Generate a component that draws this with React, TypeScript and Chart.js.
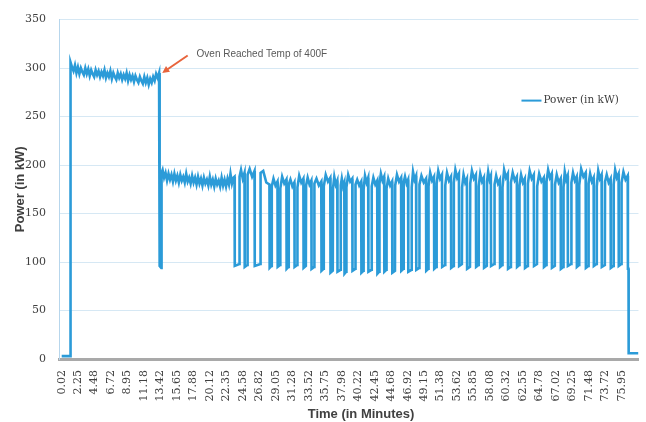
import React, { useEffect, useRef } from "react";
import { Chart, registerables } from "chart.js";
Chart.register(...registerables);

// ---- tick labels (minutes) ----
const tickLabels = ["0.02","2.25","4.48","6.72","8.95","11.18","13.42","15.65","17.88","20.12","22.35","24.58","26.82","29.05","31.28","33.52","35.75","37.98","40.22","42.45","44.68","46.92","49.15","51.38","53.62","55.85","58.08","60.32","62.55","64.78","67.02","69.25","71.48","73.72","75.95"];
const tickValues = tickLabels.map(Number);

// ---- oven off before start ----
const offTimes = [0.02, 1.2];
const offPower = [3, 3];

// ---- warm-up phase (sampled every 0.2 min) ----
const warmStart = 1.22;
const warmStep = 0.2;
const warmPower = [
  306, 301, 297, 303, 295, 301, 294, 300, 296, 293,
  300, 294, 299, 292, 298, 294, 291, 298, 293, 297,
  291, 296, 292, 298, 290, 295, 291, 297, 289, 295,
  291, 288, 295, 290, 294, 288, 293, 289, 295, 287,
  293, 288, 292, 286, 292, 288, 285, 291, 287, 284,
  291, 285, 290, 283, 289, 285, 291, 287, 294, 290,
  295,
];

// ---- brief drop when oven reached temperature ----
const dropTimes = [13.28, 13.32, 13.52, 13.56];
const dropPower = [290, 96, 94, 192];

// ---- holding plateau (sampled every 0.2 min) ----
const plateauStart = 13.7;
const plateauStep = 0.2;
const plateauPower = [
  195, 187, 192, 184, 191, 185, 190, 183, 191, 184,
  189, 182, 190, 184, 188, 182, 191, 183, 187, 181,
  189, 182, 187, 180, 188, 181, 186, 179, 187, 181,
  185, 179, 188, 180, 185, 178, 186, 180, 184, 178,
  187, 179, 185, 178, 186, 180, 191, 181, 187,
];
const preDipLevel = 188;

// ---- cycling phase ----
const dipDown = [23.45, 24.80, 26.16, 28.18, 29.27, 30.48, 31.56, 32.78, 33.86, 35.21, 36.43, 37.38, 38.33, 39.41, 40.62, 41.57, 42.79, 43.73, 44.81, 46.03, 46.98, 48.06, 49.41, 50.49, 51.57, 52.79, 53.87, 54.95, 56.17, 57.25, 58.20, 59.42, 60.50, 61.72, 62.80, 64.02, 65.37, 66.45, 67.66, 68.61, 69.83, 71.05, 72.13, 73.21, 74.43, 75.51];
const dipUp = [24.13, 25.22, 26.98, 28.50, 29.66, 30.80, 31.98, 33.15, 34.28, 35.55, 36.80, 37.85, 38.62, 39.85, 40.95, 42.05, 43.10, 44.06, 45.23, 46.38, 47.47, 48.52, 49.75, 50.85, 52.02, 53.18, 54.30, 55.40, 56.55, 57.68, 58.70, 59.78, 60.92, 62.08, 63.22, 64.48, 65.75, 66.90, 68.05, 69.12, 70.18, 71.45, 72.56, 73.68, 74.85, 75.92];
const dipLow = [96, 95, 96, 94, 95, 93, 95, 94, 93, 91, 89, 90, 88, 91, 89, 90, 88, 90, 89, 91, 90, 92, 91, 93, 95, 94, 96, 93, 95, 94, 96, 95, 93, 95, 94, 96, 95, 94, 93, 96, 95, 94, 96, 95, 94, 96];
const riseTo = [188, 190, 192, 178, 176, 180, 177, 179, 181, 178, 176, 179, 177, 180, 175, 178, 181, 176, 179, 182, 177, 180, 178, 181, 179, 182, 177, 181, 178, 183, 180, 177, 182, 179, 181, 178, 183, 180, 177, 182, 179, 181, 178, 183, 180, 182];
const peakPower = [195, 196, 194, 186, 188, 185, 189, 187, 186, 190, 188, 186, 190, 185, 189, 187, 191, 186, 190, 188, 193, 189, 192, 194, 192, 195, 190, 194, 191, 193, 189, 195, 192, 190, 194, 191, 195, 190, 193, 192, 196, 191, 194, 190, 195, 193];
const midPower = [186, 188, 182, 179, 181, 178, 182, 180, 179, 183, 180, 178, 183, 179, 182, 180, 184, 179, 183, 181, 185, 182, 184, 186, 184, 187, 182, 186, 183, 185, 181, 187, 184, 182, 186, 183, 187, 182, 185, 184, 188, 183, 186, 182, 187, 185];
const endPower = [192, 194, 180, 183, 185, 182, 186, 184, 183, 187, 184, 182, 186, 183, 187, 184, 188, 183, 187, 185, 189, 186, 188, 190, 188, 191, 186, 190, 187, 189, 185, 191, 188, 186, 190, 187, 191, 186, 189, 188, 192, 187, 190, 186, 191, 189];

// ---- shutdown ----
const finalDrop = 76.75;
const finalLow = 93;
const shutOff = 76.88;
const tailPower = 6;
const endTime = 78.21;

// ---- annotation ----
const noteText = "Oven Reached Temp of 400F";
const noteTime = 18.3;
const notePower = 314;
const arrowTailTime = 17.1;
const arrowTailPower = 313;
const arrowTipTime = 13.65;
const arrowTipPower = 295;

const seriesName = "Power (in kW)";
const lineColor = "#2b9bd8";

function buildPoints() {
  const pts: { x: number; y: number }[] = [];
  offTimes.forEach((t, i) => pts.push({ x: t, y: offPower[i] }));
  warmPower.forEach((v, i) => pts.push({ x: warmStart + i * warmStep, y: v }));
  dropTimes.forEach((t, i) => pts.push({ x: t, y: dropPower[i] }));
  plateauPower.forEach((v, i) => pts.push({ x: plateauStart + i * plateauStep, y: v }));
  let prevEnd = preDipLevel;
  dipDown.forEach((d, i) => {
    const u = dipUp[i];
    const next = i + 1 < dipDown.length ? dipDown[i + 1] : finalDrop;
    const gap = next - u;
    pts.push({ x: d, y: prevEnd });
    pts.push({ x: d + 0.03, y: dipLow[i] });
    pts.push({ x: u - 0.03, y: dipLow[i] + 2 });
    pts.push({ x: u, y: riseTo[i] });
    pts.push({ x: u + gap * 0.3, y: peakPower[i] });
    pts.push({ x: u + gap * 0.65, y: midPower[i] });
    prevEnd = endPower[i];
  });
  pts.push({ x: finalDrop, y: prevEnd });
  pts.push({ x: finalDrop + 0.03, y: finalLow });
  pts.push({ x: shutOff - 0.02, y: finalLow });
  pts.push({ x: shutOff, y: tailPower });
  pts.push({ x: endTime, y: tailPower });
  return pts;
}

const overlayPlugin = {
  id: "overlay",
  afterDraw(chart: any) {
    const { ctx, chartArea, scales } = chart;
    const xs = scales.x;
    const ys = scales.y;
    ctx.save();

    // annotation arrow
    const tx = xs.getPixelForValue(arrowTipTime);
    const ty = ys.getPixelForValue(arrowTipPower);
    const sx = xs.getPixelForValue(arrowTailTime);
    const sy = ys.getPixelForValue(arrowTailPower);
    const ang = Math.atan2(ty - sy, tx - sx);
    const headLen = 7;
    ctx.strokeStyle = "#e8643c";
    ctx.fillStyle = "#e8643c";
    ctx.lineWidth = 2;
    ctx.beginPath();
    ctx.moveTo(sx, sy);
    ctx.lineTo(tx - Math.cos(ang) * headLen * 0.8, ty - Math.sin(ang) * headLen * 0.8);
    ctx.stroke();
    ctx.beginPath();
    ctx.moveTo(tx, ty);
    ctx.lineTo(tx - Math.cos(ang) * headLen + Math.sin(ang) * 3.5, ty - Math.sin(ang) * headLen - Math.cos(ang) * 3.5);
    ctx.lineTo(tx - Math.cos(ang) * headLen - Math.sin(ang) * 3.5, ty - Math.sin(ang) * headLen + Math.cos(ang) * 3.5);
    ctx.closePath();
    ctx.fill();

    // annotation text
    ctx.fillStyle = "#595959";
    ctx.font = "10px 'Liberation Sans', Arial, sans-serif";
    ctx.textAlign = "left";
    ctx.textBaseline = "middle";
    ctx.fillText(noteText, xs.getPixelForValue(noteTime), ys.getPixelForValue(notePower));

    // legend
    const ly = chartArea.top + 81;
    const lx = chartArea.right - 117;
    ctx.strokeStyle = lineColor;
    ctx.lineWidth = 2;
    ctx.beginPath();
    ctx.moveTo(lx, ly);
    ctx.lineTo(lx + 20, ly);
    ctx.stroke();
    ctx.fillStyle = "#404040";
    ctx.font = "10.5px 'DejaVu Serif', serif";
    ctx.fillText(seriesName, lx + 22, ly);

    // x axis title
    ctx.fillStyle = "#404040";
    ctx.font = "bold 13px 'Liberation Sans', Arial, sans-serif";
    ctx.textAlign = "center";
    ctx.fillText("Time (in Minutes)", chartArea.left + 302, chartArea.bottom + 55);
    ctx.restore();
  },
};

export default function App() {
  const ref = useRef<HTMLCanvasElement>(null);
  useEffect(() => {
    if (!ref.current) return;
    const chart = new Chart(ref.current, {
      type: "line",
      data: {
        datasets: [
          {
            label: seriesName,
            data: buildPoints(),
            borderColor: lineColor,
            backgroundColor: lineColor,
            borderWidth: 2.6,
            pointRadius: 0,
            tension: 0,
            fill: false,
          },
        ],
      },
      options: {
        responsive: false,
        animation: false,
        events: [],
        layout: { padding: { left: 0, right: 0, top: 16, bottom: 0 } },
        plugins: { legend: { display: false }, tooltip: { enabled: false } },
        scales: {
          x: {
            type: "linear",
            min: -0.345,
            max: 78.21,
            afterBuildTicks: (s: any) => {
              s.ticks = tickValues.map((v) => ({ value: v }));
            },
            afterFit: (s: any) => {
              s.height = 63;
            },
            ticks: {
              autoSkip: false,
              minRotation: 90,
              maxRotation: 90,
              padding: 11,
              color: "#404040",
              font: { family: "'DejaVu Serif', serif", size: 11 },
              callback: (_v: any, i: number) => tickLabels[i],
            },
            grid: { display: false, drawTicks: false },
            border: { color: "#a9a9a9", width: 3 },
          },
          y: {
            min: 0,
            max: 350,
            afterFit: (s: any) => {
              s.width = 59;
            },
            ticks: {
              stepSize: 50,
              padding: 13,
              color: "#404040",
              font: { family: "'DejaVu Serif', serif", size: 11 },
            },
            grid: { color: "#d6e8f4", drawTicks: false, lineWidth: 1 },
            border: { color: "#b7d6ec", width: 1 },
            title: {
              display: true,
              text: "Power (in kW)",
              color: "#404040",
              font: { family: "'Liberation Sans', Arial, sans-serif", size: 13, weight: "bold" },
              padding: { top: 13, bottom: 0 },
            },
          },
        },
      },
      plugins: [overlayPlugin],
    } as any);
    return () => chart.destroy();
  }, []);
  return (
    <div style={{ position: "absolute", left: 0, top: 0, width: 646, height: 422 }}>
      <canvas ref={ref} width={646} height={422} style={{ display: "block" }} />
    </div>
  );
}
